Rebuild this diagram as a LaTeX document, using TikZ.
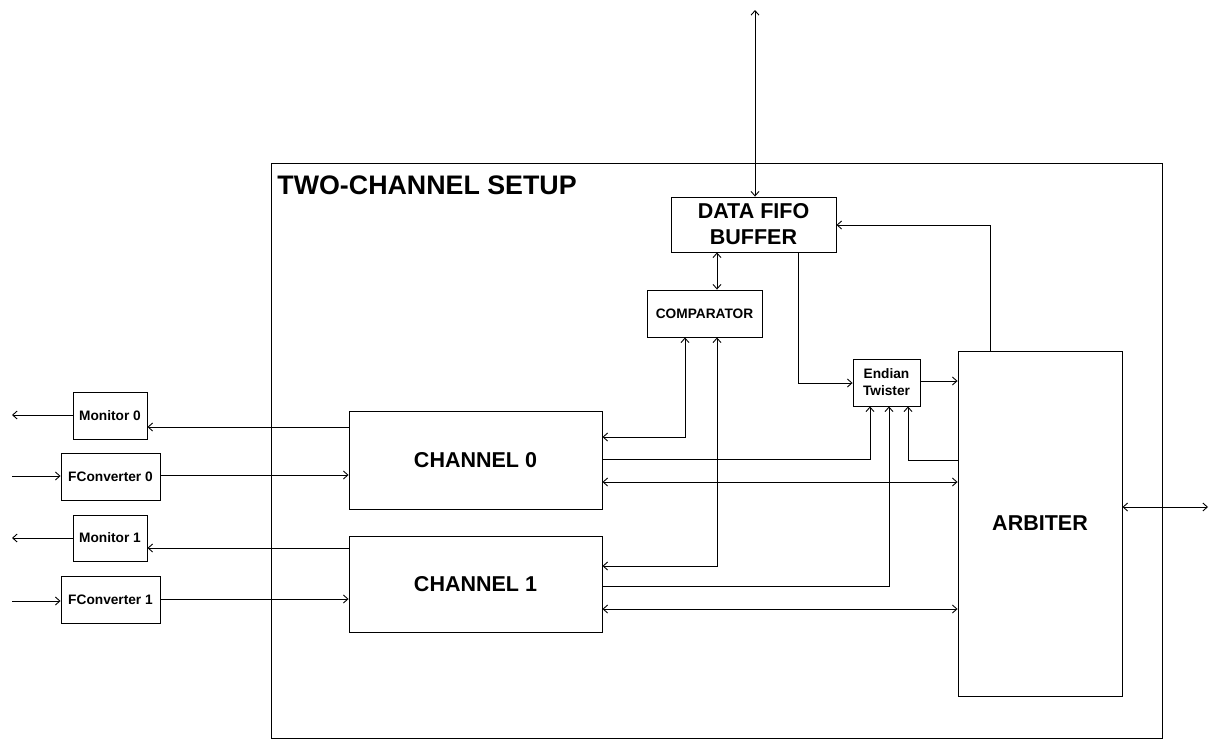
\documentclass[tikz,border=0pt]{standalone}
\usepackage{fontspec}
\setmainfont{Liberation Sans}
\usetikzlibrary{arrows.meta}
\begin{document}
\begin{tikzpicture}[x=1pt,y=-1pt,line width=0.9pt,
  box/.style={draw,inner sep=0pt,font=\bfseries,align=center},
  big/.style={box,font=\fontsize{21.5}{26}\selectfont\bfseries},
  small/.style={box,font=\fontsize{13.7}{17}\selectfont\bfseries},
  arr/.style={-{Straight Barb[length=4.5pt,width=8pt]}},
  dbl/.style={{Straight Barb[length=4.5pt,width=8pt]}-{Straight Barb[length=4.5pt,width=8pt]}}]
\useasboundingbox (0,0) rectangle (1221,750);
% outer frame
\node[draw,inner sep=0pt,minimum width=891pt,minimum height=575pt] (outer) at (716.5,450.5) {};
\node[anchor=base west,inner sep=0pt,font=\fontsize{26.8}{30}\selectfont\bfseries] (title) at (277,194) {TWO-CHANNEL SETUP};
% blocks
\node[big,minimum width=165pt,minimum height=55pt] (fifo) at (753.5,224.5) {DATA FIFO\\BUFFER};
\node[small,minimum width=115pt,minimum height=47pt] (comp) at (704.5,313.5) {COMPARATOR};
\node[small,minimum width=67pt,minimum height=47pt] (endian) at (886.5,382.5) {Endian\\Twister};
\node[big,minimum width=164pt,minimum height=345pt] (arb) at (1040,523.5) {ARBITER};
\node[big,minimum width=253pt,minimum height=98pt] (ch0) at (475.5,460) {CHANNEL 0};
\node[big,minimum width=253pt,minimum height=96pt] (ch1) at (475.5,584) {CHANNEL 1};
\node[small,minimum width=74pt,minimum height=47pt] (mon0) at (110,415.5) {Monitor 0};
\node[small,minimum width=99pt,minimum height=47pt] (fc0) at (110.5,476.5) {FConverter 0};
\node[small,minimum width=74pt,minimum height=46pt] (mon1) at (110,538) {Monitor 1};
\node[small,minimum width=99pt,minimum height=47pt] (fc1) at (110.5,599.5) {FConverter 1};
% free ends
\coordinate (topend) at (755,10);
\coordinate (rightend) at (1208,507);
\coordinate (lm0) at (12,415);
\coordinate (lf0) at (12,476);
\coordinate (lm1) at (12,538);
\coordinate (lf1) at (12,601);
% connectors
\draw[dbl] (topend) -- (fifo.north -| topend);
\draw[dbl] (fifo.south -| 717,0) -- (comp.north -| 717,0);
\draw[dbl] (comp.south -| 685,0) |- (ch0.east |- 0,437);
\draw[dbl] (comp.south -| 717,0) |- (ch1.east |- 0,566);
\draw[arr] (fifo.south -| 798,0) |- (endian.west |- 0,383);
\draw[arr] (endian.east |- 0,381) -- (arb.west |- 0,381);
\draw[arr] (arb.north -| 990,0) |- (fifo.east |- 0,225);
\draw[arr] (ch0.east |- 0,459) -| (endian.south -| 870,0);
\draw[arr] (ch1.east |- 0,586) -| (endian.south -| 889,0);
\draw[arr] (arb.west |- 0,460) -| (endian.south -| 908,0);
\draw[dbl] (ch0.east |- 0,482) -- (arb.west |- 0,482);
\draw[dbl] (ch1.east |- 0,609) -- (arb.west |- 0,609);
\draw[dbl] (arb.east |- rightend) -- (rightend);
\draw[arr] (ch0.west |- 0,427) -- (mon0.east |- 0,427);
\draw[arr] (fc0.east |- 0,475) -- (ch0.west |- 0,475);
\draw[arr] (mon0.west |- lm0) -- (lm0);
\draw[arr] (lf0) -- (fc0.west |- lf0);
\draw[arr] (ch1.west |- 0,548) -- (mon1.east |- 0,548);
\draw[arr] (fc1.east |- 0,599) -- (ch1.west |- 0,599);
\draw[arr] (mon1.west |- lm1) -- (lm1);
\draw[arr] (lf1) -- (fc1.west |- lf1);
\end{tikzpicture}
\end{document}
